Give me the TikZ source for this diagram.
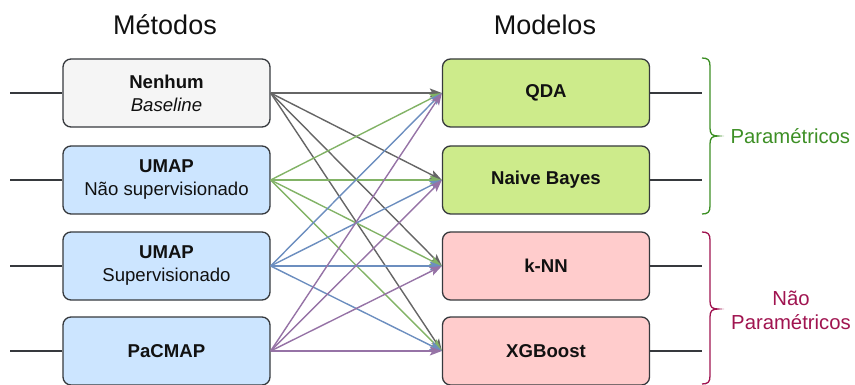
\documentclass[tikz,border=0pt]{standalone}
\usepackage{fontspec}
\setmainfont{Liberation Sans}
\usetikzlibrary{arrows.meta}
\definecolor{bordc}{HTML}{36393D}
\definecolor{grayfill}{HTML}{F5F5F5}
\definecolor{bluefill}{HTML}{CCE5FF}
\definecolor{greenfill}{HTML}{CDEB8B}
\definecolor{redfill}{HTML}{FFCCCC}
\definecolor{cgray}{HTML}{666666}
\definecolor{cgreen}{HTML}{82B366}
\definecolor{cblue}{HTML}{6C8EBF}
\definecolor{cpurple}{HTML}{9673A6}
\definecolor{paramc}{HTML}{3D8F25}
\definecolor{nparamc}{HTML}{A01450}
\definecolor{txtc}{HTML}{111111}
\tikzset{
  boxnode/.style={draw=bordc, line width=1.3pt, rounded corners=8pt,
    minimum width=207pt, minimum height=68pt, align=center, text=txtc,
    inner sep=0pt, font=\fontsize{18.6}{23}\selectfont},
  stub/.style={draw=bordc, line width=1.2pt},
  conn/.style={line width=1.4pt, -{Stealth[length=12pt,width=9pt,inset=2.5pt]}},
  titlenode/.style={font=\fontsize{27}{30}\selectfont, text=txtc},
  bracelbl/.style={font=\fontsize{20.3}{24}\selectfont, align=center}
}
\begin{document}
\begin{tikzpicture}[x=1pt,y=-1pt]
\useasboundingbox (0,0) rectangle (855,385);
% titles
\node[titlenode] (t1) at (165,25) {Métodos};
\node[titlenode] (t2) at (545,25) {Modelos};
% left boxes
\node[boxnode, fill=grayfill] (m1) at (166.5,93) {\textbf{Nenhum}\\\textit{Baseline}};
\node[boxnode, fill=bluefill] (m2) at (166.5,180) {\textbf{UMAP}\\Não supervisionado};
\node[boxnode, fill=bluefill] (m3) at (166.5,266) {\textbf{UMAP}\\Supervisionado};
\node[boxnode, fill=bluefill] (m4) at (166.5,351) {\textbf{PaCMAP}};
% right boxes
\node[boxnode, fill=greenfill] (r1) at (546,93) {\textbf{QDA}};
\node[boxnode, fill=greenfill] (r2) at (546,180) {\textbf{Naive Bayes}};
\node[boxnode, fill=redfill] (r3) at (546,266) {\textbf{k-NN}};
\node[boxnode, fill=redfill] (r4) at (546,351) {\textbf{XGBoost}};
% stubs
\foreach \i/\y in {1/93,2/180,3/266,4/351}{
  \coordinate (la\i) at (10,\y);
  \coordinate (rb\i) at (702,\y);
  \draw[stub] (la\i) -- (m\i.west);
  \draw[stub] (r\i.east) -- (rb\i);
}
% connectors
\foreach \j in {1,2,3,4}{\draw[conn, draw=cgray, fill=cgray] (m1.east) -- (r\j.west);}
\foreach \j in {1,2,3,4}{\draw[conn, draw=cgreen, fill=cgreen] (m2.east) -- (r\j.west);}
\foreach \j in {1,2,3,4}{\draw[conn, draw=cblue, fill=cblue] (m3.east) -- (r\j.west);}
\foreach \j in {1,2,3,4}{\draw[conn, draw=cpurple, fill=cpurple] (m4.east) -- (r\j.west);}
% braces
\draw[paramc, line width=1.3pt] (702,58) .. controls (708,58) and (710,60) .. (710,66) -- (710,128)
  .. controls (710,134) and (712,136) .. (718,136) .. controls (712,136) and (710,138) .. (710,144)
  -- (710,206) .. controls (710,212) and (708,214) .. (702,214);
\draw[nparamc, line width=1.3pt] (702,232) .. controls (708,232) and (710,234) .. (710,240) -- (710,301)
  .. controls (710,307) and (712,309) .. (718,309) .. controls (712,309) and (710,311) .. (710,317)
  -- (710,376) .. controls (710,382) and (708,384) .. (702,384);
\node[bracelbl, text=paramc, anchor=west] (p1) at (727,136) {Paramétricos};
\node[bracelbl, text=nparamc] (p2) at (791,310) {Não\\Paramétricos};
\end{tikzpicture}
\end{document}
